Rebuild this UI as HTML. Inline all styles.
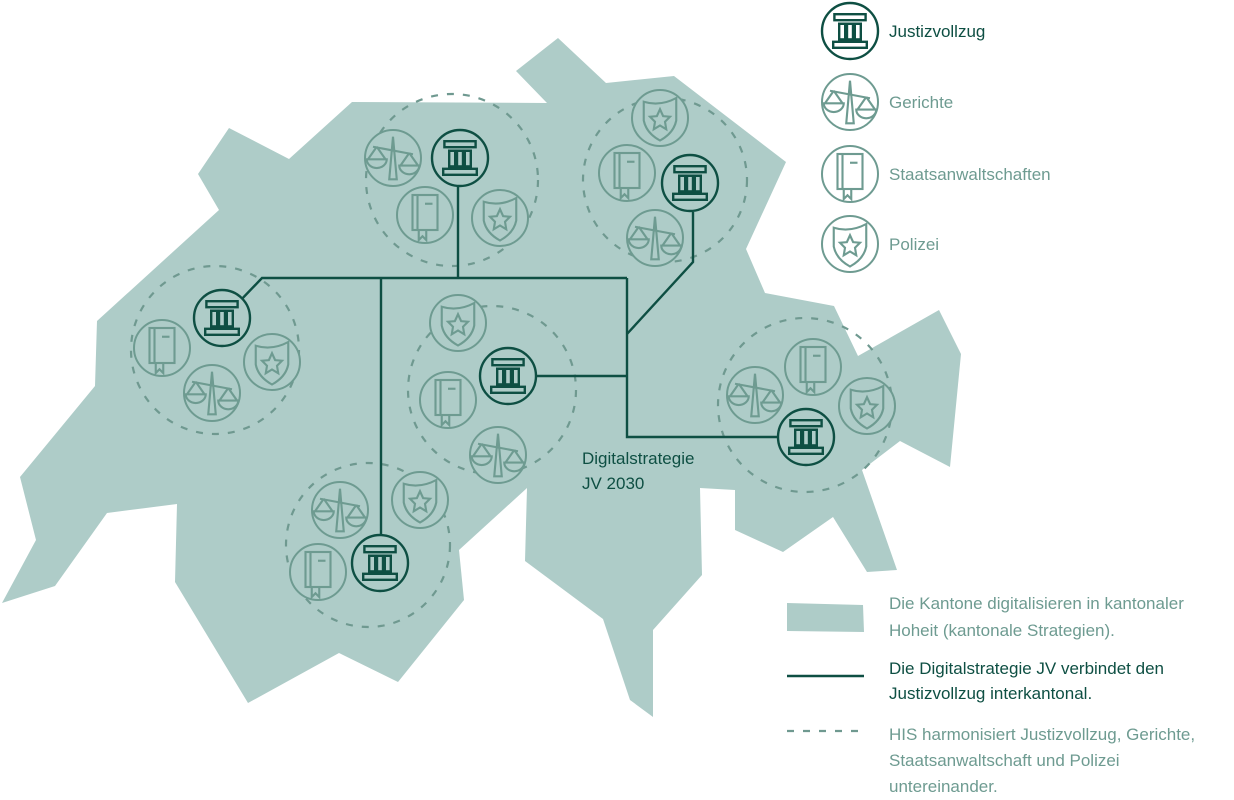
<!DOCTYPE html>
<html><head><meta charset="utf-8"><style>
body{margin:0;background:#fff;width:1234px;height:795px;overflow:hidden;font-family:"Liberation Sans",sans-serif}
.bg{fill:var(--bg,#aeccc8)}
.lg{--bg:#fff}
</style></head><body>
<svg width="1234" height="795" viewBox="0 0 1234 795" xmlns="http://www.w3.org/2000/svg">
<defs>
<g id="jv" fill="none" stroke="#0e4f43" stroke-width="2.4">
<circle r="28" class="bg"/>
<g transform="scale(1.2)" stroke-width="2">
<rect x="-13" y="-14" width="26" height="5"/><line x1="-10" y1="-6" x2="10" y2="-6"/>
<rect x="-9" y="-6" width="5" height="13"/><rect x="-2.5" y="-6" width="5" height="13"/><rect x="4" y="-6" width="5" height="13"/>
<line x1="-10" y1="8" x2="10" y2="8"/><rect x="-14" y="9" width="28" height="5"/>
</g></g>
<g id="ge" fill="none" stroke="#6e9b91" stroke-width="2">
<circle r="28" class="bg"/>
<g transform="scale(1.25)" stroke-width="1.7">
<path d="M0,-17 L-3,17 L3,17 Z"/><line x1="-16" y1="-9" x2="16" y2="-3"/>
<path d="M-13,-9 L-20,1 M-13,-9 L-6,1 M-21,1 A8,7 0 0 0 -5,1 Z"/>
<path d="M13,-4 L6,6 M13,-4 L20,6 M5,6 A8,7 0 0 0 21,6 Z"/>
</g></g>
<g id="st" fill="none" stroke="#6e9b91" stroke-width="2">
<circle r="28" class="bg"/>
<g transform="scale(1.25)" stroke-width="1.7">
<rect x="-10" y="-16" width="20" height="28"/><line x1="-6" y1="-16" x2="-6" y2="12"/>
<line x1="0" y1="-9" x2="6" y2="-9"/><path d="M-5,12 L-5,20 L-2,17 L1,20 L1,12"/>
</g></g>
<g id="po" fill="none" stroke="#6e9b91" stroke-width="2">
<circle r="28" class="bg"/>
<g transform="scale(1.25)" stroke-width="1.7">
<path d="M-13,-13 Q0,-9 13,-16 L13,2 Q11,12 0,18 Q-11,12 -13,2 Z"/>
<path d="M0,-7 L2.5,-1.5 L8,-1 L4,3 L5,9 L0,6 L-5,9 L-4,3 L-8,-1 L-2.5,-1.5 Z"/>
</g></g>
</defs>
<polygon fill="#aeccc8" points="352,102 547,103 516,71 558,38 606,83 674,76 786,162 746,249 765,293 834,306 858,356 939,310 961,354 950,467 900,441 862,470 897,570 867,572 833,517 783,552 735,530 735,490 700,488 702,575 653,630 653,717 630,700 603,619 525,561 527,488 459,550 464,600 398,682 339,653 248,703 175,582 177,504 107,513 55,586 2,603 36,540 20,477 95,386 97,321 219,210 198,174 229,128 289,159"/>
<g fill="none" stroke="#6f9990" stroke-width="2.2" stroke-dasharray="7 9">
<circle cx="452" cy="180" r="86"/><circle cx="665" cy="180" r="82"/><circle cx="215" cy="350" r="84"/>
<circle cx="492" cy="390" r="84"/><circle cx="368" cy="545" r="82"/><circle cx="805" cy="405" r="87"/>
</g>
<g fill="none" stroke="#0e4f43" stroke-width="2.4">
<polyline points="238,303 262,278 627,278"/>
<line x1="458" y1="186" x2="458" y2="278"/>
<line x1="381" y1="278" x2="381" y2="535"/>
<polyline points="627,278 627,437 778,437"/>
<line x1="536" y1="376" x2="627" y2="376"/>
<polyline points="693,212 693,262 627,334"/>
</g>
<use href="#ge" x="393" y="158"/><use href="#st" x="425" y="215"/><use href="#po" x="500" y="218"/><use href="#jv" x="460" y="158"/>
<use href="#po" x="660" y="118"/><use href="#st" x="627" y="173"/><use href="#ge" x="655" y="238"/><use href="#jv" x="690" y="183"/>
<use href="#st" x="162" y="348"/><use href="#ge" x="212" y="393"/><use href="#po" x="272" y="362"/><use href="#jv" x="222" y="318"/>
<use href="#po" x="458" y="323"/><use href="#st" x="448" y="400"/><use href="#ge" x="498" y="455"/><use href="#jv" x="508" y="376"/>
<use href="#ge" x="340" y="510"/><use href="#po" x="420" y="500"/><use href="#st" x="318" y="572"/><use href="#jv" x="380" y="563"/>
<use href="#ge" x="755" y="395"/><use href="#st" x="813" y="367"/><use href="#po" x="867" y="406"/><use href="#jv" x="806" y="437"/>
<g class="lg">
<use href="#jv" x="850" y="31"/><use href="#ge" x="850" y="102"/><use href="#st" x="850" y="174"/><use href="#po" x="850" y="244"/>
</g>
<g font-size="17">
<text x="582" y="464" fill="#0e4f43">Digitalstrategie</text>
<text x="582" y="489" fill="#0e4f43">JV 2030</text>
<text x="889" y="37" fill="#0e4f43">Justizvollzug</text>
<text x="889" y="108" fill="#6e9b91">Gerichte</text>
<text x="889" y="180" fill="#6e9b91">Staatsanwaltschaften</text>
<text x="889" y="250" fill="#6e9b91">Polizei</text>
<text x="889" y="609" fill="#6e9b91">Die Kantone digitalisieren in kantonaler</text>
<text x="889" y="636" fill="#6e9b91">Hoheit (kantonale Strategien).</text>
<text x="889" y="674" fill="#0e4f43">Die Digitalstrategie JV  verbindet den</text>
<text x="889" y="699" fill="#0e4f43">Justizvollzug interkantonal.</text>
<text x="889" y="740" fill="#6e9b91">HIS harmonisiert Justizvollzug, Gerichte,</text>
<text x="889" y="766" fill="#6e9b91">Staatsanwaltschaft und Polizei</text>
<text x="889" y="792" fill="#6e9b91">untereinander.</text>
</g>
<polygon fill="#aeccc8" points="787,603 863,605 864,632 787,631"/>
<line x1="787" y1="676" x2="864" y2="676" stroke="#0e4f43" stroke-width="2.4"/>
<line x1="787" y1="731" x2="864" y2="731" stroke="#6f9990" stroke-width="2.2" stroke-dasharray="7 9"/>
</svg>
</body></html>
